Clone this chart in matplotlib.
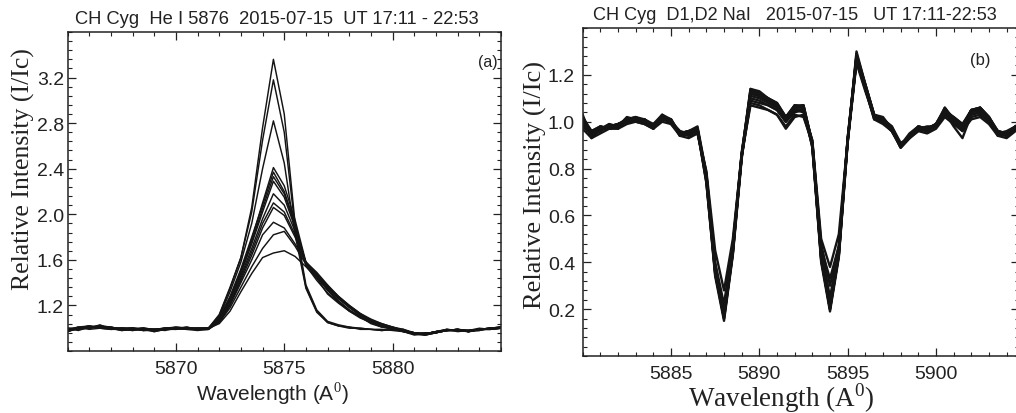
import numpy as np
import matplotlib
matplotlib.use("Agg")
import matplotlib.pyplot as plt
from matplotlib.ticker import MultipleLocator, FixedLocator

# ---------------- data: panel (a) He I 5876 ----------------
wl_a = [5865.0, 5865.5, 5866.0, 5866.5, 5867.0, 5867.5, 5868.0, 5868.5, 5869.0, 5869.5,
        5870.0, 5870.5, 5871.0, 5871.5, 5872.0, 5872.5, 5873.0, 5873.5, 5874.0, 5874.5,
        5875.0, 5875.5, 5876.0, 5876.5, 5877.0, 5877.5, 5878.0, 5878.5, 5879.0, 5879.5,
        5880.0, 5880.5, 5881.0, 5881.5, 5882.0, 5882.5, 5883.0, 5883.5, 5884.0, 5884.5, 5885.0]

he_1 = [0.97, 1.00, 1.02, 1.01, 1.00, 0.98, 0.99, 1.00, 0.97, 0.99, 1.00, 1.01, 0.99,
        1.00, 1.12, 1.36, 1.62, 2.06, 2.76, 3.36, 2.88, 1.92, 1.38, 1.16, 1.06, 1.03, 1.01, 1.00, 0.99, 0.99, 0.98,
        0.97, 0.94, 0.95, 0.97, 0.98, 0.99, 0.97, 0.99, 1.00, 1.01]
he_2 = [0.99, 1.01, 1.00, 1.03, 0.99, 1.00, 1.00, 0.98, 0.99, 1.00, 0.99, 1.00, 1.00,
        1.00, 1.11, 1.35, 1.62, 2.02, 2.65, 3.18, 2.72, 1.88, 1.36, 1.15, 1.05, 1.02, 1.00, 1.00, 0.99, 0.98, 0.99,
        0.98, 0.95, 0.94, 0.96, 0.98, 0.98, 0.98, 0.99, 0.99, 1.00]
he_3 = [1.00, 0.98, 1.01, 1.02, 1.01, 0.99, 0.98, 1.00, 0.99, 0.98, 1.00, 0.99, 0.98,
        0.99, 1.10, 1.32, 1.58, 1.92, 2.40, 2.82, 2.45, 1.82, 1.35, 1.14, 1.05, 1.02, 1.01, 0.99, 0.99, 0.98, 0.99,
        0.97, 0.95, 0.95, 0.97, 0.99, 0.97, 0.98, 1.00, 0.99, 1.01]
he_4 = [0.98, 1.00, 1.01, 1.01, 1.00, 1.00, 0.99, 0.99, 0.98, 1.00, 1.01, 1.00, 0.99,
        1.00, 1.08, 1.26, 1.50, 1.78, 2.10, 2.41, 2.25, 1.95, 1.58, 1.46, 1.34, 1.24, 1.16, 1.10, 1.05, 1.02, 1.00,
        0.98, 0.96, 0.95, 0.97, 0.98, 0.99, 0.97, 0.99, 1.00, 1.00]
he_5 = [0.97, 1.01, 1.02, 1.00, 0.99, 1.00, 1.00, 0.98, 0.99, 0.99, 1.00, 1.00, 1.00,
        1.00, 1.09, 1.28, 1.52, 1.80, 2.08, 2.37, 2.20, 1.92, 1.56, 1.44, 1.30, 1.22, 1.15, 1.09, 1.05, 1.01, 1.00,
        0.97, 0.95, 0.96, 0.96, 0.99, 0.98, 0.98, 0.98, 1.00, 1.01]
he_6 = [0.99, 0.99, 1.00, 1.02, 1.01, 0.99, 1.00, 1.00, 0.98, 0.99, 0.99, 1.01, 0.99,
        0.99, 1.08, 1.27, 1.50, 1.76, 2.05, 2.33, 2.18, 1.90, 1.57, 1.47, 1.36, 1.26, 1.18, 1.11, 1.06, 1.02, 1.00,
        0.99, 0.95, 0.94, 0.96, 0.98, 0.99, 0.97, 0.99, 0.99, 1.00]
he_7 = [0.98, 1.00, 1.00, 1.01, 1.00, 0.98, 0.99, 1.00, 0.99, 1.00, 1.00, 0.99, 1.00,
        1.00, 1.07, 1.25, 1.48, 1.74, 2.02, 2.29, 2.15, 1.88, 1.55, 1.42, 1.31, 1.23, 1.15, 1.10, 1.04, 1.01, 0.99,
        0.98, 0.96, 0.95, 0.97, 0.98, 0.98, 0.98, 0.99, 1.00, 1.00]
he_8 = [1.00, 0.99, 1.01, 1.02, 0.99, 1.00, 0.99, 0.98, 0.98, 1.00, 1.00, 1.00, 0.99,
        1.00, 1.07, 1.24, 1.46, 1.70, 1.96, 2.18, 2.08, 1.85, 1.58, 1.48, 1.37, 1.27, 1.19, 1.12, 1.07, 1.03, 1.00,
        0.97, 0.95, 0.95, 0.97, 0.99, 0.98, 0.97, 0.98, 1.00, 1.01]
he_9 = [0.98, 1.01, 0.99, 1.00, 1.01, 0.99, 1.00, 0.99, 0.99, 0.99, 1.01, 1.00, 0.99,
        0.99, 1.06, 1.22, 1.44, 1.67, 1.92, 2.10, 2.02, 1.82, 1.57, 1.45, 1.33, 1.24, 1.16, 1.10, 1.05, 1.02, 1.00,
        0.98, 0.95, 0.96, 0.96, 0.98, 0.99, 0.98, 0.99, 0.99, 1.00]
he_10 = [0.99, 1.00, 1.01, 1.01, 1.00, 1.00, 0.98, 0.99, 0.98, 1.00, 0.99, 1.00, 1.00,
         1.00, 1.06, 1.21, 1.42, 1.64, 1.88, 2.06, 1.99, 1.80, 1.58, 1.49, 1.38, 1.28, 1.20, 1.13, 1.07, 1.03, 1.01,
         0.99, 0.96, 0.94, 0.96, 0.98, 0.98, 0.97, 0.99, 1.00, 1.00]
he_11 = [0.97, 1.00, 1.02, 1.00, 0.99, 0.99, 1.00, 0.99, 0.97, 0.99, 1.00, 1.00, 0.99,
         0.99, 1.05, 1.20, 1.40, 1.60, 1.82, 1.93, 1.88, 1.74, 1.58, 1.47, 1.36, 1.27, 1.19, 1.12, 1.07, 1.03, 1.00,
         0.98, 0.95, 0.95, 0.97, 0.98, 0.99, 0.98, 0.99, 1.00, 1.01]
he_12 = [1.00, 1.00, 1.00, 1.02, 1.00, 0.99, 0.99, 1.00, 0.99, 1.00, 1.00, 0.99, 0.99,
         1.00, 1.05, 1.18, 1.36, 1.54, 1.70, 1.82, 1.85, 1.72, 1.56, 1.46, 1.37, 1.28, 1.20, 1.13, 1.08, 1.04, 1.01,
         0.98, 0.96, 0.95, 0.96, 0.98, 0.98, 0.98, 0.99, 1.00, 1.00]
he_13 = [0.98, 0.99, 1.01, 1.01, 1.00, 1.00, 1.00, 0.99, 0.98, 0.99, 1.00, 1.00, 1.00,
         1.00, 1.04, 1.15, 1.32, 1.48, 1.62, 1.66, 1.68, 1.63, 1.54, 1.44, 1.35, 1.26, 1.19, 1.12, 1.07, 1.04, 1.01,
         0.98, 0.96, 0.95, 0.97, 0.98, 0.99, 0.97, 0.99, 0.99, 1.00]

he_series = [he_1, he_2, he_3, he_4, he_5, he_6, he_7, he_8, he_9, he_10, he_11, he_12, he_13]

# ---------------- data: panel (b) Na I D1, D2 ----------------
wl_b = [5880.0, 5880.5, 5881.0, 5881.5, 5882.0, 5882.5, 5883.0, 5883.5, 5884.0, 5884.5,
        5885.0, 5885.5, 5886.0, 5886.5, 5887.0, 5887.5, 5888.0, 5888.5, 5889.0, 5889.5,
        5890.0, 5890.5, 5891.0, 5891.5, 5892.0, 5892.5, 5893.0, 5893.5, 5894.0, 5894.5,
        5895.0, 5895.5, 5896.0, 5896.5, 5897.0, 5897.5, 5898.0, 5898.5, 5899.0, 5899.5,
        5900.0, 5900.5, 5901.0, 5901.5, 5902.0, 5902.5, 5903.0, 5903.5, 5904.0, 5904.5, 5905.0]

na_1 = [1.02, 0.96, 0.98, 0.97, 0.99, 1.01, 1.02, 1.00, 0.97, 1.02, 1.01, 0.94, 0.95, 0.97, 0.74, 0.34, 0.15,
        0.43, 0.84, 1.13, 1.12, 1.10, 1.08, 1.02, 1.07, 1.06, 0.89, 0.40, 0.19, 0.42, 0.91, 1.29, 1.16, 1.03,
        1.01, 0.97, 0.89, 0.94, 0.98, 0.97, 0.99, 1.06, 1.01, 0.98, 1.05, 1.06, 1.02, 0.95, 0.94, 0.97, 0.99]
na_2 = [0.99, 0.94, 0.97, 0.98, 0.98, 1.00, 1.01, 1.01, 0.98, 1.03, 1.00, 0.95, 0.96, 0.96, 0.77, 0.37, 0.18,
        0.46, 0.86, 1.14, 1.12, 1.09, 1.07, 1.01, 1.06, 1.07, 0.91, 0.43, 0.21, 0.44, 0.93, 1.27, 1.14, 1.02,
        1.00, 0.96, 0.90, 0.93, 0.97, 0.96, 0.98, 1.05, 1.00, 0.97, 1.04, 1.06, 1.01, 0.96, 0.95, 0.98, 1.00]
na_3 = [1.01, 0.95, 0.96, 0.99, 0.97, 1.01, 1.00, 1.00, 0.99, 1.02, 1.00, 0.96, 0.95, 0.97, 0.76, 0.35, 0.16,
        0.44, 0.85, 1.11, 1.10, 1.08, 1.06, 1.00, 1.05, 1.05, 0.90, 0.41, 0.20, 0.43, 0.92, 1.26, 1.15, 1.02,
        1.01, 0.98, 0.91, 0.93, 0.97, 0.98, 0.98, 1.04, 1.02, 0.99, 1.04, 1.05, 1.01, 0.94, 0.95, 0.98, 1.01]
na_4 = [1.03, 0.93, 0.97, 0.98, 0.99, 1.00, 1.01, 1.00, 0.98, 1.01, 1.00, 0.95, 0.96, 0.98, 0.78, 0.38, 0.19,
        0.47, 0.87, 1.12, 1.11, 1.09, 1.06, 1.01, 1.06, 1.06, 0.91, 0.44, 0.22, 0.45, 0.93, 1.28, 1.15, 1.03,
        1.02, 0.97, 0.90, 0.94, 0.97, 0.96, 0.99, 1.05, 1.00, 0.97, 1.05, 1.04, 1.02, 0.96, 0.94, 0.97, 1.00]
na_5 = [0.98, 0.95, 0.98, 0.97, 0.98, 1.02, 1.01, 1.01, 0.98, 1.02, 1.01, 0.94, 0.95, 0.96, 0.75, 0.36, 0.17,
        0.45, 0.85, 1.12, 1.11, 1.09, 1.07, 1.02, 1.06, 1.06, 0.90, 0.42, 0.20, 0.44, 0.92, 1.27, 1.15, 1.02,
        1.00, 0.97, 0.89, 0.93, 0.96, 0.97, 0.98, 1.04, 1.01, 0.98, 1.04, 1.05, 1.01, 0.95, 0.96, 0.98, 0.99]
na_6 = [1.00, 0.96, 0.97, 0.97, 0.99, 1.00, 1.00, 0.99, 0.97, 1.02, 0.99, 0.95, 0.94, 0.97, 0.78, 0.40, 0.22,
        0.48, 0.86, 1.10, 1.09, 1.07, 1.05, 1.00, 1.04, 1.05, 0.92, 0.46, 0.25, 0.46, 0.92, 1.26, 1.14, 1.01,
        1.00, 0.96, 0.90, 0.94, 0.97, 0.97, 0.98, 1.03, 0.99, 0.97, 1.03, 1.04, 1.00, 0.95, 0.95, 0.98, 1.00]
na_7 = [1.02, 0.94, 0.96, 0.98, 0.98, 1.01, 1.01, 1.00, 0.98, 1.01, 1.00, 0.96, 0.94, 0.95, 0.79, 0.45, 0.28,
        0.50, 0.86, 1.07, 1.06, 1.05, 1.03, 0.98, 1.03, 1.02, 0.91, 0.48, 0.30, 0.47, 0.91, 1.25, 1.13, 1.02,
        1.01, 0.97, 0.90, 0.95, 0.98, 0.97, 0.99, 1.03, 1.00, 0.96, 1.02, 1.03, 1.00, 0.96, 0.95, 0.97, 0.99]
na_8 = [1.01, 0.95, 0.97, 0.98, 0.99, 1.00, 1.01, 1.00, 0.98, 1.02, 1.00, 0.95, 0.95, 0.96, 0.77, 0.38, 0.20,
        0.46, 0.85, 1.09, 1.08, 1.07, 1.05, 1.00, 1.05, 1.04, 0.92, 0.50, 0.38, 0.52, 0.92, 1.26, 1.14, 1.02,
        1.00, 0.96, 0.89, 0.93, 0.97, 0.96, 0.98, 1.04, 0.98, 0.93, 1.03, 1.04, 1.01, 0.95, 0.94, 0.97, 1.00]
na_9 = [0.99, 0.96, 0.98, 0.97, 0.98, 1.01, 1.02, 1.01, 0.99, 1.03, 1.01, 0.95, 0.96, 0.97, 0.76, 0.37, 0.18,
        0.45, 0.86, 1.13, 1.12, 1.10, 1.08, 1.02, 1.07, 1.07, 0.91, 0.46, 0.33, 0.47, 0.93, 1.28, 1.16, 1.03,
        1.01, 0.98, 0.90, 0.94, 0.98, 0.97, 0.99, 1.05, 1.02, 0.99, 1.05, 1.06, 1.02, 0.96, 0.95, 0.98, 1.00]
na_10 = [1.00, 0.94, 0.97, 0.99, 0.98, 1.00, 1.01, 1.00, 0.98, 1.02, 1.00, 0.95, 0.95, 0.96, 0.74, 0.35, 0.17,
         0.44, 0.86, 1.14, 1.13, 1.10, 1.07, 1.01, 1.07, 1.06, 0.89, 0.41, 0.21, 0.43, 0.91, 1.30, 1.16, 1.03,
         1.01, 0.97, 0.89, 0.93, 0.97, 0.97, 0.98, 1.06, 1.01, 0.98, 1.05, 1.06, 1.02, 0.95, 0.94, 0.97, 0.99]
na_11 = [0.97, 0.93, 0.95, 0.97, 0.97, 0.99, 1.00, 0.99, 0.97, 1.00, 0.99, 0.94, 0.93, 0.95, 0.77, 0.39, 0.20,
         0.47, 0.85, 1.08, 1.07, 1.05, 1.03, 0.97, 1.02, 1.03, 0.90, 0.43, 0.22, 0.45, 0.92, 1.26, 1.14, 1.01,
         0.99, 0.96, 0.89, 0.93, 0.96, 0.95, 0.97, 1.02, 0.99, 0.96, 1.01, 1.02, 0.99, 0.94, 0.93, 0.96, 0.98]
na_12 = [1.01, 0.96, 0.97, 0.98, 0.99, 1.01, 1.01, 1.01, 0.98, 1.02, 1.01, 0.95, 0.96, 0.97, 0.75, 0.36, 0.16,
         0.44, 0.85, 1.12, 1.11, 1.09, 1.07, 1.02, 1.06, 1.07, 0.90, 0.42, 0.20, 0.43, 0.92, 1.28, 1.15, 1.02,
         1.01, 0.97, 0.90, 0.94, 0.97, 0.97, 0.99, 1.05, 1.01, 0.98, 1.05, 1.05, 1.01, 0.95, 0.95, 0.98, 1.00]

na_series = [na_1, na_2, na_3, na_4, na_5, na_6, na_7, na_8, na_9, na_10, na_11, na_12]

xticks_a = [5870, 5875, 5880]
yticks_a = [1.2, 1.6, 2.0, 2.4, 2.8, 3.2]
xticks_b = [5885, 5890, 5895, 5900]
yticks_b = [0.2, 0.4, 0.6, 0.8, 1.0, 1.2]

title_a = "CH Cyg  He I 5876  2015-07-15  UT 17:11 - 22:53"
title_b = "CH Cyg  D1,D2 NaI   2015-07-15   UT 17:11-22:53"

# ---------------- figure ----------------
W, H = 1016, 414
fig = plt.figure(figsize=(W / 100, H / 100), dpi=100)
fig.patch.set_facecolor("white")

SANS = ["Liberation Sans", "DejaVu Sans"]
SERIF = ["Liberation Serif", "DejaVu Serif"]
plt.rcParams["mathtext.fontset"] = "custom"
plt.rcParams["mathtext.rm"] = "Liberation Sans"


def px_axes(l, t, r, b):
    return fig.add_axes([l / W, 1 - b / H, (r - l) / W, (b - t) / H])


ax_a = px_axes(67.5, 33, 501, 352)
ax_b = px_axes(582.7, 29, 1019, 357)

LINE = "#141414"
for s in he_series:
    ax_a.plot(wl_a, s, color=LINE, lw=1.05, solid_joinstyle="round")
for s in na_series:
    ax_b.plot(wl_b, s, color=LINE, lw=1.7, solid_joinstyle="round")

ax_a.set_xlim(5865, 5885)
ax_a.set_ylim(0.8, 3.6)
ax_b.set_xlim(5880, 5904.7)
ax_b.set_ylim(0.0, 1.4)

for ax, xt, yt, ymin, ypad, xpad in [(ax_a, xticks_a, yticks_a, 0.08, 2.5, 6.5),
                                       (ax_b, xticks_b, yticks_b, 0.04, 5.5, 6.5)]:
    ax.xaxis.set_major_locator(FixedLocator(xt))
    ax.yaxis.set_major_locator(FixedLocator(yt))
    ax.xaxis.set_minor_locator(MultipleLocator(1.0))
    ax.yaxis.set_minor_locator(MultipleLocator(ymin))
    ax.tick_params(which="both", direction="in", top=True, right=True, color="#222222")
    ax.tick_params(which="major", length=5.5, width=0.9)
    ax.tick_params(which="minor", length=2.8, width=0.8)
    ax.tick_params(axis="y", which="major", pad=ypad)
    ax.tick_params(axis="x", which="major", pad=xpad)
    for sp in ax.spines.values():
        sp.set_linewidth(1.1)
        sp.set_color("#222222")
    for lab in ax.get_xticklabels() + ax.get_yticklabels():
        lab.set_family(SANS)
        lab.set_fontsize(14)
        lab.set_color("#222222")
    ax.set_facecolor("white")

# y labels (serif)
fig.text(23 / W, 1 - 169 / H, "Relative Intensity (I/Ic)", rotation=90, family=SERIF,
         fontsize=18.5, ha="center", va="center", color="#222222")
fig.text(535 / W, 1 - 185 / H, "Relative Intensity (I/Ic)", rotation=90, family=SERIF,
         fontsize=19, ha="center", va="center", color="#222222")

# x labels
fig.text(272 / W, 1 - 394 / H, r"Wavelength (A$^{0}$)", family=SANS,
         fontsize=15, ha="center", va="center", color="#222222")
plt.rcParams["mathtext.rm"] = "Liberation Serif"
fig.text(781 / W, 1 - 398 / H, r"Wavelength (A$^{0}$)", family=SERIF,
         fontsize=19.5, ha="center", va="center", color="#222222",
         math_fontfamily="custom")

# titles
fig.text(277 / W, 1 - 19 / H, title_a, family=SANS, fontsize=13.2,
         ha="center", va="center", color="#222222")
fig.text(795 / W, 1 - 16 / H, title_b, family=SANS, fontsize=13.1,
         ha="center", va="center", color="#222222")

# panel labels
ax_a.text(488 / W, 1 - 62 / H, "(a)", transform=fig.transFigure, family=SANS, fontsize=11.5,
          ha="center", va="center", color="#222222")
ax_b.text(980 / W, 1 - 61 / H, "(b)", transform=fig.transFigure, family=SANS, fontsize=12,
          ha="center", va="center", color="#222222")

fig.savefig("out.png", dpi=100, facecolor="white")
